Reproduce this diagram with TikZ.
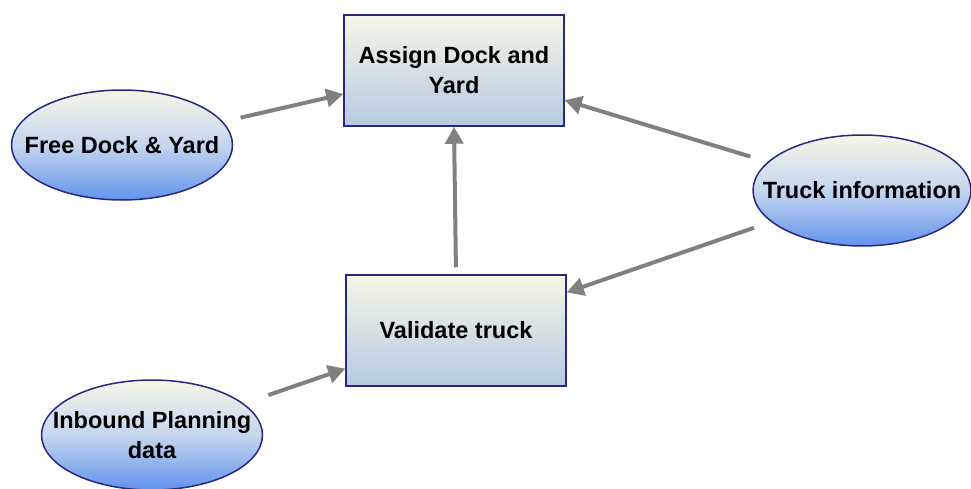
\documentclass[tikz,border=0pt]{standalone}
\usepackage{fontspec}
\setmainfont{Liberation Sans}
\usetikzlibrary{shapes.geometric,arrows.meta}
\definecolor{bordercol}{RGB}{40,40,130}
\definecolor{creamtop}{RGB}{246,246,230}
\definecolor{boxbot}{RGB}{182,202,226}
\definecolor{ellmid}{RGB}{196,214,238}
\definecolor{ellbot}{RGB}{98,146,236}
\definecolor{conncol}{RGB}{128,128,128}
\tikzset{
  txt/.style={font=\fontsize{23.5}{30}\selectfont\bfseries, align=center, text=black},
  procbox/.style={txt, rectangle, draw=bordercol, line width=1.5pt, minimum width=220pt, minimum height=111pt, inner sep=0pt, top color=creamtop, bottom color=boxbot},
  dataell/.style={ellipse, draw=bordercol, line width=1.5pt, minimum width=221pt, minimum height=110pt, inner sep=0pt, top color=creamtop, bottom color=ellbot, middle color=ellmid},
  conn/.style={draw=conncol, line width=4pt, -{Triangle[length=17pt,width=18pt]}}
}
\begin{document}
\begin{tikzpicture}[x=1pt,y=-1pt]
\useasboundingbox (0,0) rectangle (971,489);
\begin{scope}
\clip (0,0) rectangle (971,489);
\node[procbox] (asg) at (454,70.5) {Assign Dock and\\Yard};
\node[procbox] (val) at (456,330.5) {Validate truck};
\node[dataell] (free) at (122,145) {};
\node[txt] (freet) at (free) {Free Dock \& Yard};
\node[dataell, minimum width=218pt, minimum height=111pt] (truck) at (862,190.5) {};
\node[txt] (truckt) at (truck) {Truck information};
\node[dataell] (inb) at (152,435) {};
\node[txt] (inbt) at (inb) {Inbound Planning\\data};
\draw[conn, shorten <=18pt] (free) -- (asg.192.5);
\draw[conn, shorten <=7pt] (val.north) -- (asg.south);
\draw[conn, shorten <=18pt] (truck) -- (asg.-15);
\draw[conn, shorten <=18pt] (truck) -- (val.19);
\draw[conn, shorten <=26pt] (inb) -- (val.199);
\end{scope}
\end{tikzpicture}
\end{document}
